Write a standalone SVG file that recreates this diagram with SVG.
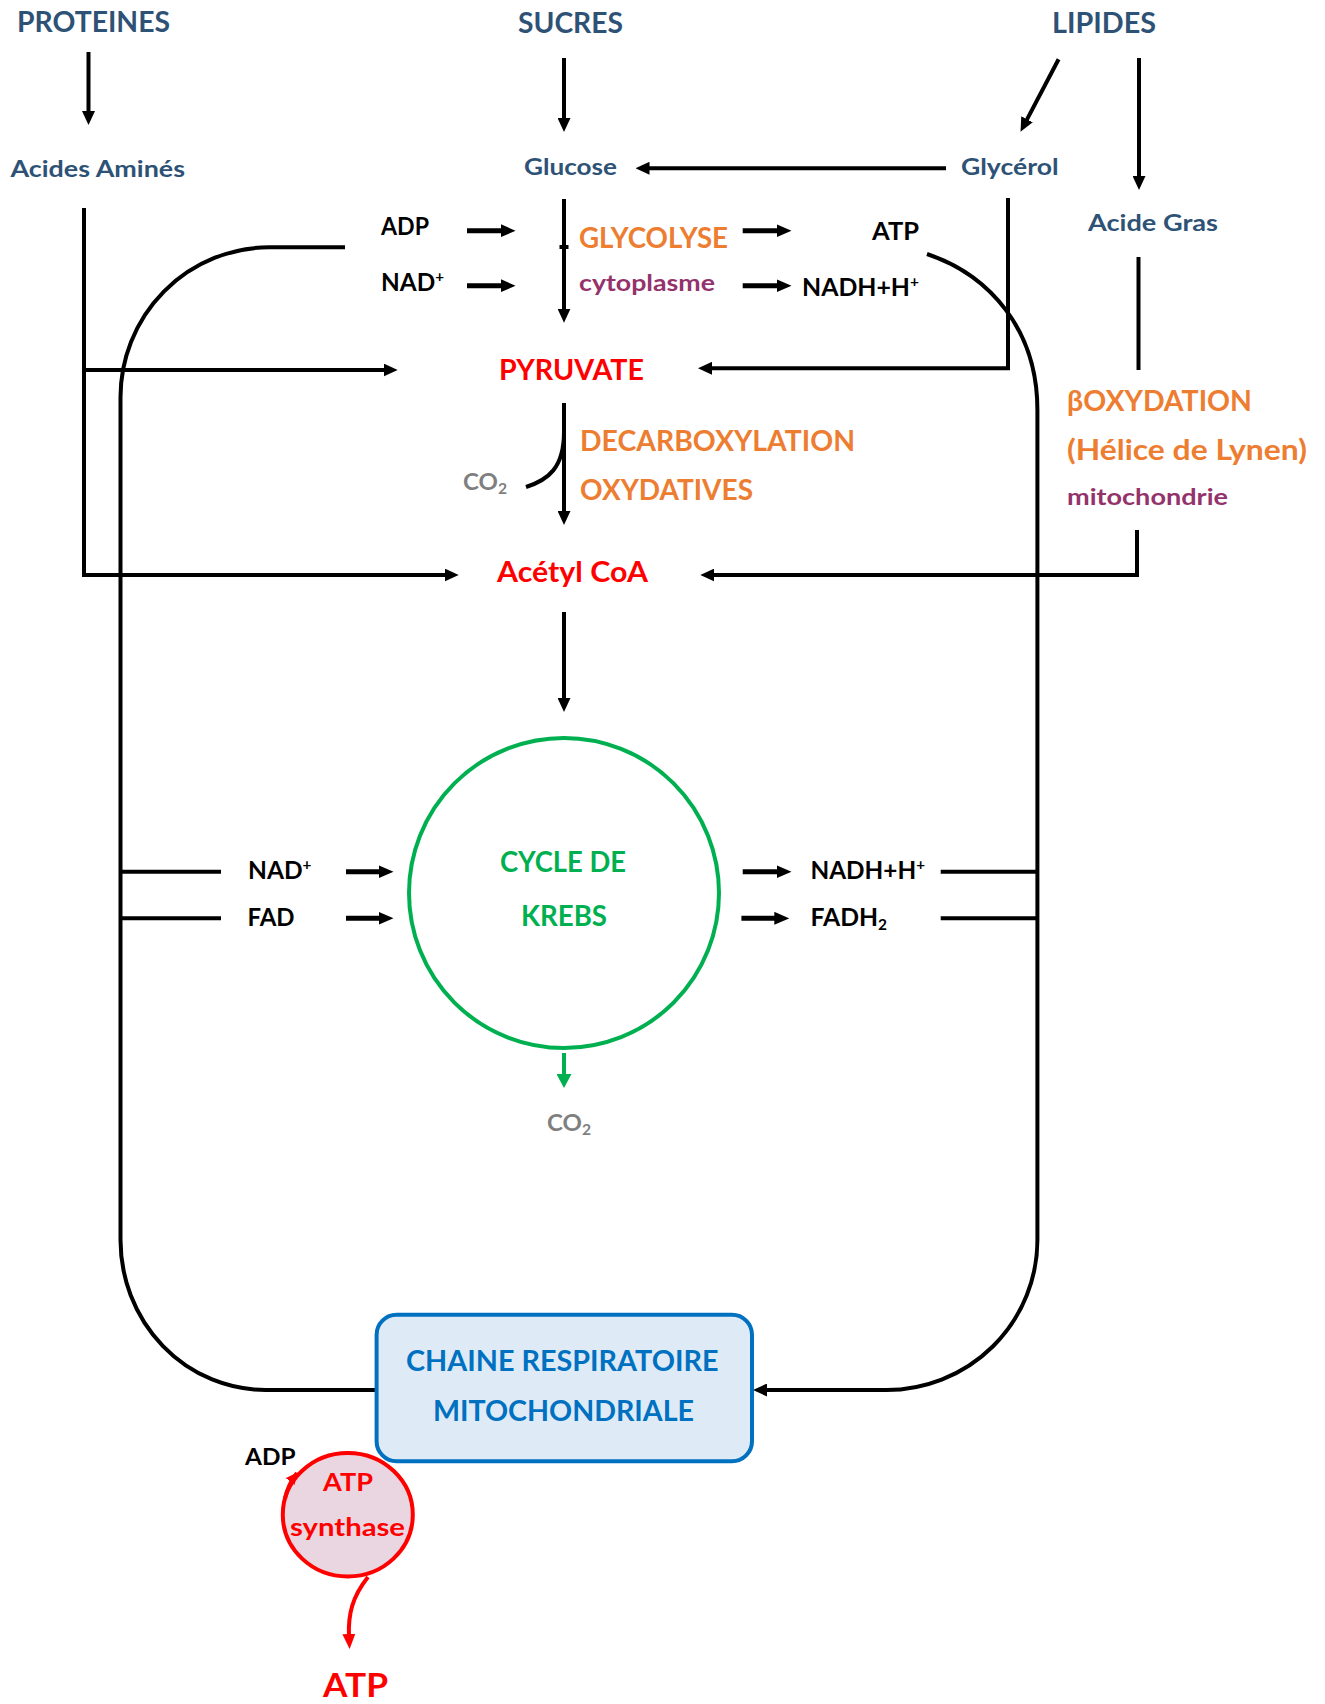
<svg xmlns="http://www.w3.org/2000/svg" width="1325" height="1704" viewBox="0 0 1325 1704">
<defs>
<style>
text{font-family:Lato,"Liberation Sans",sans-serif;font-weight:bold}
.big{font-size:28px}
.mid{font-size:24px}
.sm{font-size:23px}
.blue{fill:#2E5275}
.org{fill:#ED7D31}
.pur{fill:#94336B}
.red{fill:#FF0000}
.gray{fill:#7F7F7F}
.grn{fill:#00B050}
.k{fill:#000}
.ln{fill:none;stroke:#000;stroke-width:4}
.sh{fill:none;stroke:#000;stroke-width:5}
</style>
<marker id="ah" viewBox="0 0 14 13" refX="2" refY="6.5" markerWidth="14" markerHeight="13" markerUnits="userSpaceOnUse" orient="auto"><path d="M0,0 L14,6.5 L0,13 z" fill="#000"/></marker>
<marker id="ahs" viewBox="0 0 15 13" refX="2" refY="6.5" markerWidth="15" markerHeight="13" markerUnits="userSpaceOnUse" orient="auto"><path d="M0,0 L15,6.5 L0,13 z" fill="#000"/></marker>
<marker id="ahg" viewBox="0 0 14 15" refX="2" refY="7.5" markerWidth="14" markerHeight="15" markerUnits="userSpaceOnUse" orient="auto"><path d="M0,0 L14,7.5 L0,15 z" fill="#00B050"/></marker>
<marker id="ahr" viewBox="0 0 15 13" refX="2" refY="6.5" markerWidth="15" markerHeight="13" markerUnits="userSpaceOnUse" orient="auto"><path d="M0,0 L15,6.5 L0,13 z" fill="#FF0000"/></marker>
<marker id="ahr2" viewBox="0 0 12 11" refX="11" refY="5.5" markerWidth="12" markerHeight="11" markerUnits="userSpaceOnUse" orient="auto"><path d="M0,0 L12,5.5 L0,11 z" fill="#FF0000"/></marker>
</defs>
<rect width="1325" height="1704" fill="#fff"/>

<g id="connectors">
<line class="ln" x1="88.5" y1="52" x2="88.5" y2="113" marker-end="url(#ah)"/>
<line class="ln" x1="564" y1="58" x2="564" y2="120" marker-end="url(#ah)"/>
<line class="ln" x1="1058.6" y1="59.3" x2="1026.1" y2="121.1" marker-end="url(#ah)"/>
<line class="ln" x1="1139" y1="58" x2="1139" y2="178" marker-end="url(#ah)"/>
<line class="ln" x1="946" y1="168.3" x2="647.5" y2="168.3" marker-end="url(#ah)"/>
<polyline class="ln" points="1008,198 1008,368.3 710,368.3" marker-end="url(#ah)"/>
<polyline class="ln" points="84,208 84,575 446.7,575" marker-end="url(#ah)"/>
<line class="ln" x1="84" y1="370" x2="385.7" y2="370" marker-end="url(#ah)"/>
<line class="ln" x1="564" y1="199" x2="564" y2="310.7" marker-end="url(#ah)"/>
<rect x="559.5" y="245" width="9" height="4" fill="#000"/>
<line class="sh" x1="467" y1="230.7" x2="502.6" y2="230.7" marker-end="url(#ahs)"/>
<line class="sh" x1="467" y1="285.7" x2="502.6" y2="285.7" marker-end="url(#ahs)"/>
<line class="sh" x1="742.7" y1="230.7" x2="778.5" y2="230.7" marker-end="url(#ahs)"/>
<line class="sh" x1="742.7" y1="285.7" x2="778.5" y2="285.7" marker-end="url(#ahs)"/>
<line class="ln" x1="564" y1="403" x2="564" y2="513" marker-end="url(#ah)"/>
<path class="ln" d="M564,432 C564,468 548,480 526,487"/>
<line class="ln" x1="1138.5" y1="257" x2="1138.5" y2="370"/>
<polyline class="ln" points="1137,530 1137,575 712.3,575" marker-end="url(#ah)"/>
<line class="ln" x1="564" y1="612" x2="564" y2="700" marker-end="url(#ah)"/>
<line stroke="#00B050" stroke-width="4" x1="564" y1="1053" x2="564" y2="1076" marker-end="url(#ahg)"/>
<line class="sh" x1="346" y1="871.7" x2="380.5" y2="871.7" marker-end="url(#ahs)"/>
<line class="sh" x1="346" y1="918.3" x2="380.5" y2="918.3" marker-end="url(#ahs)"/>
<line class="sh" x1="742.7" y1="871.7" x2="778.5" y2="871.7" marker-end="url(#ahs)"/>
<line class="sh" x1="741.4" y1="918.3" x2="776.3" y2="918.3" marker-end="url(#ahs)"/>
<line class="ln" x1="120.8" y1="871.7" x2="221" y2="871.7"/>
<line class="ln" x1="120.8" y1="918.3" x2="221" y2="918.3"/>
<line class="ln" x1="940.7" y1="871.7" x2="1037.4" y2="871.7"/>
<line class="ln" x1="940.7" y1="918.3" x2="1037.4" y2="918.3"/>
<path class="ln" d="M345,247.3 L269,247.3 A149 150 0 0 0 120.5,397 L120.5,1240 A145 150 0 0 0 265.5,1390 L376,1390"/>
<path class="ln" d="M927,254 C990,275 1037.4,330 1037.4,410 L1037.4,1240 A151 150 0 0 1 886,1390 L765,1390" marker-end="url(#ah)"/>
<path fill="none" stroke="#FF0000" stroke-width="4" d="M368,1577 C352,1597 348,1615 349,1636" marker-end="url(#ahr)"/>
</g>

<g id="proteines"><text class="big blue" x="17" y="32" textLength="153" lengthAdjust="spacingAndGlyphs">PROTEINES</text></g>
<g id="sucres"><text class="big blue" x="518" y="33" textLength="105" lengthAdjust="spacingAndGlyphs">SUCRES</text></g>
<g id="lipides"><text class="big blue" x="1052" y="33" textLength="104" lengthAdjust="spacingAndGlyphs">LIPIDES</text></g>
<g id="acides-amines"><text class="sm blue" x="10.5" y="177" textLength="174.5" lengthAdjust="spacingAndGlyphs">Acides Aminés</text></g>
<g id="glucose"><text class="sm blue" x="524" y="175" textLength="93" lengthAdjust="spacingAndGlyphs">Glucose</text></g>
<g id="glycerol"><text class="sm blue" x="961" y="175" textLength="97.6" lengthAdjust="spacingAndGlyphs">Glycérol</text></g>
<g id="acide-gras"><text class="sm blue" x="1088" y="231" textLength="130" lengthAdjust="spacingAndGlyphs">Acide Gras</text></g>

<g id="glycolyse-inputs">
<text class="mid k" x="381" y="235" textLength="48" lengthAdjust="spacingAndGlyphs">ADP</text>
<text class="mid k" x="381" y="291" textLength="63" lengthAdjust="spacingAndGlyphs">NAD<tspan font-size="15" dy="-9">+</tspan></text>
</g>
<g id="glycolyse">
<text class="big org" x="579" y="248" textLength="149" lengthAdjust="spacingAndGlyphs">GLYCOLYSE</text>
<text class="sm pur" x="579" y="291" textLength="136" lengthAdjust="spacingAndGlyphs">cytoplasme</text>
</g>
<g id="glycolyse-outputs">
<text class="mid k" x="872" y="240" textLength="47" lengthAdjust="spacingAndGlyphs">ATP</text>
<text class="mid k" x="802" y="296" textLength="117" lengthAdjust="spacingAndGlyphs">NADH+H<tspan font-size="15" dy="-9">+</tspan></text>
</g>
<g id="pyruvate"><text class="big red" x="499" y="380" textLength="145" lengthAdjust="spacingAndGlyphs">PYRUVATE</text></g>
<g id="decarboxylation">
<text class="big org" x="580" y="451" textLength="275" lengthAdjust="spacingAndGlyphs">DECARBOXYLATION</text>
<text class="big org" x="580" y="500" textLength="173" lengthAdjust="spacingAndGlyphs">OXYDATIVES</text>
</g>
<g id="co2-decarb"><text class="sm gray" x="463" y="490" textLength="44" lengthAdjust="spacingAndGlyphs">CO<tspan font-size="15" dy="4">2</tspan></text></g>
<g id="beta-oxydation">
<text class="big org" x="1067" y="411" textLength="185" lengthAdjust="spacingAndGlyphs">βOXYDATION</text>
<text class="big org" x="1067" y="460" textLength="240" lengthAdjust="spacingAndGlyphs">(Hélice de Lynen)</text>
<text class="sm pur" x="1067" y="505" textLength="161" lengthAdjust="spacingAndGlyphs">mitochondrie</text>
</g>
<g id="acetyl-coa"><text class="big red" x="497" y="582" textLength="151" lengthAdjust="spacingAndGlyphs">Acétyl CoA</text></g>

<g id="krebs">
<circle cx="564" cy="893" r="155" fill="none" stroke="#00B050" stroke-width="4"/>
<text class="big grn" x="500" y="872" textLength="126" lengthAdjust="spacingAndGlyphs">CYCLE DE</text>
<text class="big grn" x="521" y="926" textLength="86" lengthAdjust="spacingAndGlyphs">KREBS</text>
</g>
<g id="krebs-inputs">
<text class="mid k" x="248" y="879" textLength="63.5" lengthAdjust="spacingAndGlyphs">NAD<tspan font-size="15" dy="-9">+</tspan></text>
<text class="mid k" x="247.5" y="926" textLength="47" lengthAdjust="spacingAndGlyphs">FAD</text>
</g>
<g id="krebs-outputs">
<text class="mid k" x="810.5" y="879" textLength="114.5" lengthAdjust="spacingAndGlyphs">NADH+H<tspan font-size="15" dy="-9">+</tspan></text>
<text class="mid k" x="810.5" y="926" textLength="76.5" lengthAdjust="spacingAndGlyphs">FADH<tspan font-size="15" dy="4">2</tspan></text>
</g>
<g id="co2-krebs"><text class="sm gray" x="547" y="1131" textLength="44" lengthAdjust="spacingAndGlyphs">CO<tspan font-size="15" dy="4">2</tspan></text></g>

<g id="chaine-respiratoire">
<rect x="376.6" y="1314.7" width="375.4" height="146.6" rx="20" fill="#DEEBF7" stroke="#0070C0" stroke-width="4"/>
<text class="big" fill="#0070C0" x="406" y="1371" textLength="312.5" lengthAdjust="spacingAndGlyphs">CHAINE RESPIRATOIRE</text>
<text class="big" fill="#0070C0" x="433" y="1421" textLength="261" lengthAdjust="spacingAndGlyphs">MITOCHONDRIALE</text>
</g>
<g id="atp-synthase">
<ellipse cx="347.8" cy="1514.7" rx="65" ry="61.7" fill="#EAD6E0" stroke="#FF0000" stroke-width="4"/>
<path fill="none" stroke="#FF0000" stroke-width="4" d="M285,1498.7 A65 61.7 0 0 1 297,1473" marker-end="url(#ahr2)"/>
<text class="mid red" x="323" y="1491" textLength="50" lengthAdjust="spacingAndGlyphs">ATP</text>
<text class="mid red" x="290" y="1536" textLength="115" lengthAdjust="spacingAndGlyphs">synthase</text>
</g>
<g id="adp-bottom"><text class="sm k" x="245" y="1465" textLength="50.5" lengthAdjust="spacingAndGlyphs">ADP</text></g>
<g id="atp-bottom"><text class="red" font-size="33" x="323" y="1697" textLength="65" lengthAdjust="spacingAndGlyphs">ATP</text></g>
</svg>
